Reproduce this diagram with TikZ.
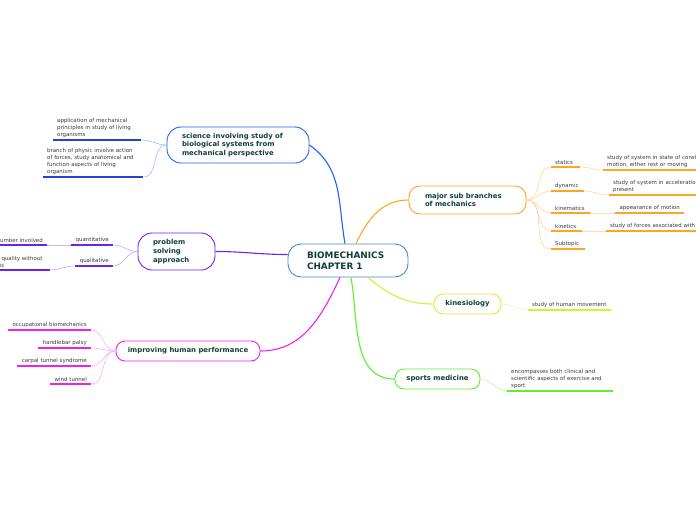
\documentclass[tikz,border=0pt]{standalone}
\usepackage{fontspec}
\setmainfont{DejaVu Sans}
\definecolor{bioblue}{HTML}{3A8FD0}
\definecolor{sciblue}{HTML}{2163F5}
\definecolor{scileaf}{HTML}{1E45D8}
\definecolor{scilite}{HTML}{93B2FF}
\definecolor{suborange}{HTML}{FFA526}
\definecolor{orangelite}{HTML}{FFD08A}
\definecolor{kinyellow}{HTML}{D4F030}
\definecolor{kinlite}{HTML}{E6F7A0}
\definecolor{sportgreen}{HTML}{5EEF2E}
\definecolor{sportlite}{HTML}{B5F7A0}
\definecolor{impmagenta}{HTML}{EE22EE}
\definecolor{implite}{HTML}{F7A5F7}
\definecolor{probpurple}{HTML}{6B22EE}
\definecolor{problite}{HTML}{B79CF7}
\definecolor{headteal}{HTML}{123F3A}
\definecolor{leafgray}{HTML}{3A3A3A}
\begin{document}
\begin{tikzpicture}[x=1pt,y=1pt,
    topic/.style={draw, fill=white, rounded corners=9pt, line width=0.9pt, text=headteal,
                  font=\bfseries\fontsize{6.9}{8.8}\selectfont},
    leaf/.style={inner xsep=4pt, inner ysep=2pt, anchor=south west, align=left, text=leafgray,
                 font=\fontsize{5.45}{7}\selectfont},
    rleaf/.style={leaf, anchor=south east, align=right},
    under/.style={line width=1.2pt},
    stem/.style={line width=0.5pt},
    branch/.style={line width=1.1pt}]
    \useasboundingbox (0,0) rectangle (696,-520);
    \clip (0,0) rectangle (696,-520);
    \fill[white] (0,0) rectangle (696,-520);

    % Nodo central
    \node[topic, draw=bioblue, rounded corners=13pt, text width=82pt, inner xsep=19pt,
          minimum height=33pt, align=left, font=\bfseries\fontsize{8.9}{10.8}\selectfont]
          (bio) at (348,-260.5) {BIOMECHANICS\\CHAPTER 1};

    % Temas principales
    \node[topic, draw=sciblue, rounded corners=14pt, text width=112pt, inner xsep=15pt,
          minimum height=36pt, align=left]
          (sci) at (238,-145) {science involving study of\\biological systems from\\mechanical perspective};
    \node[topic, draw=suborange, rounded corners=11pt, text width=85pt, inner xsep=16pt,
          minimum height=28pt, align=left]
          (major) at (467.5,-200) {major sub branches\\of mechanics};
    \node[topic, draw=kinyellow, minimum width=67pt, minimum height=20pt]
          (kin) at (467.5,-304) {kinesiology};
    \node[topic, draw=sportgreen, minimum width=85pt, minimum height=20pt]
          (sports) at (437.5,-379) {sports medicine};
    \node[topic, draw=impmagenta, minimum width=144pt, minimum height=20pt]
          (imp) at (188,-351) {improving human performance};
    \node[topic, draw=probpurple, text width=47pt, inner xsep=15pt, minimum height=37pt, align=left,
          rounded corners=14pt]
          (prob) at (176.5,-251.5) {problem\\solving\\approach};

    % Ramas desde el centro
    \draw[branch, sciblue] ([xshift=-3pt]bio.north) to[out=100,in=-35] (sci.east);
    \draw[branch, suborange] ([xshift=8pt]bio.north) to[out=65,in=180] (major.west);
    \draw[branch, kinyellow] ([xshift=20pt]bio.south) to[out=-40,in=180] (kin.west);
    \draw[branch, sportgreen] ([xshift=3pt]bio.south) to[out=-80,in=180] (sports.west);
    \draw[branch, impmagenta] ([xshift=-8pt]bio.south) to[out=-115,in=0] (imp.east);
    \draw[branch, probpurple] ([yshift=6pt]bio.west) to[out=180,in=0] (prob.east);

    % Hojas: ciencia
    \node[leaf, text width=80pt] (appl) at (53,-140)
          {application of mechanical\\principles in study of living\\organisms};
    \node[leaf, text width=92pt] (phys) at (43,-177)
          {branch of physic involve action\\of forces, study anatomical and\\function aspects of living\\organism};
    \foreach \n in {appl, phys} {
        \draw[under, scileaf] (\n.south west) -- (\n.south east);
        \draw[stem, scilite] (\n.south east) to[out=0,in=180] (sci.west);
    }

    % Hojas: ramas de la mecanica
    \node[leaf, text width=21pt] (statics) at (551,-167) {statics};
    \node[leaf, text width=25pt] (dynamic) at (551,-191) {dynamic};
    \node[leaf, text width=31pt] (kinematics) at (551,-213) {kinematics};
    \node[leaf, text width=23pt] (kinetics) at (551,-231) {kinetics};
    \node[leaf, text width=26pt] (subtopic) at (551,-249) {Subtopic};
    \node[leaf, text width=110pt] (staticsdef) at (603,-170)
          {study of system in state of constant\\motion, either rest or moving};
    \node[leaf, text width=110pt] (dynamicdef) at (609,-195)
          {study of system in acceleration is\\present};
    \node[leaf, text width=61pt, align=center] (kinematicsdef) at (615,-213) {appearance of motion};
    \node[leaf, text width=110pt] (kineticsdef) at (606,-231) {study of forces associated with motion};
    \foreach \n in {statics, dynamic, kinematics, kinetics, subtopic} {
        \draw[under, suborange] (\n.south west) -- (\n.south east);
        \draw[stem, orangelite] (major.east) to[out=0,in=180] (\n.south west);
    }
    \foreach \n/\m in {statics/staticsdef, dynamic/dynamicdef, kinematics/kinematicsdef, kinetics/kineticsdef} {
        \draw[under, suborange] (\m.south west) -- (\m.south east);
        \draw[stem, orangelite] (\n.south east) to[out=0,in=180] (\m.south west);
    }

    % Hojas: kinesiologia y medicina deportiva
    \node[leaf, text width=75pt] (movement) at (528,-310) {study of human movement};
    \draw[under, kinyellow] (movement.south west) -- (movement.south east);
    \draw[stem, kinlite] (kin.east) to[out=0,in=180] (movement.south west);
    \node[leaf, text width=98pt] (clinical) at (507,-391)
          {encompasses both clinical and\\scientific aspects of exercise and\\sport};
    \draw[under, sportgreen] (clinical.south west) -- (clinical.south east);
    \draw[stem, sportlite] (sports.east) to[out=0,in=180] (clinical.south west);

    % Hojas: rendimiento humano
    \node[rleaf, text width=75pt] (occ) at (91,-330) {occupational biomechanics};
    \node[rleaf, text width=45pt] (palsy) at (91,-348) {handlebar palsy};
    \node[rleaf, text width=66pt] (carpal) at (91,-366) {carpal tunnel syndrome};
    \node[rleaf, text width=33pt] (wind) at (91,-384) {wind tunnel};
    \foreach \n in {occ, palsy, carpal, wind} {
        \draw[under, impmagenta] (\n.south west) -- (\n.south east);
        \draw[stem, implite] (\n.south east) to[out=0,in=180] (imp.west);
    }

    % Hojas: resolucion de problemas
    \node[rleaf, text width=34pt] (quant) at (113,-245) {quantitative};
    \node[rleaf, text width=30pt] (qual) at (113,-266) {qualitative};
    \node[rleaf, text width=90pt] (quantdef) at (47,-245) {deals with number involved};
    \node[rleaf, text width=74pt, align=left] (qualdef) at (50,-270)
          {deals with quality without\\calculations};
    \foreach \n in {quant, qual, quantdef, qualdef}
        \draw[under, probpurple] (\n.south west) -- (\n.south east);
    \draw[stem, problite] (quant.south east) to[out=0,in=180] (prob.west);
    \draw[stem, problite] (qual.south east) to[out=0,in=180] (prob.west);
    \draw[stem, problite] (quantdef.south east) to[out=0,in=180] (quant.south west);
    \draw[stem, problite] (qualdef.south east) to[out=0,in=180] (qual.south west);
\end{tikzpicture}
\end{document}
